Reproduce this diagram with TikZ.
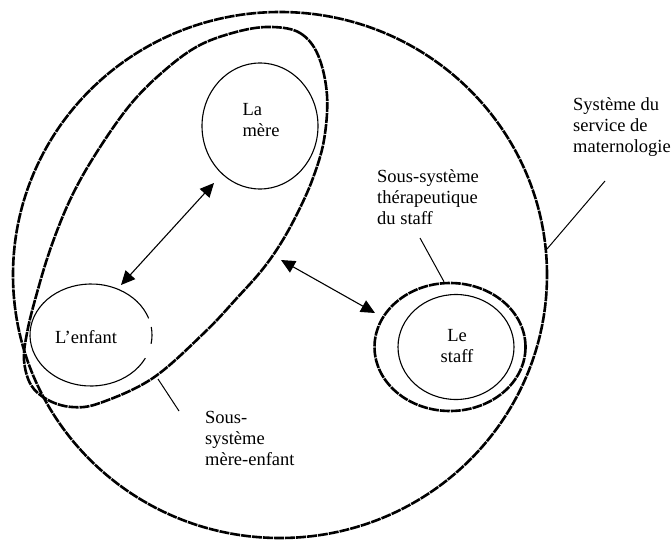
\documentclass[tikz,border=0pt]{standalone}
\usepackage{fontspec}
\setmainfont{Liberation Serif}
\usetikzlibrary{shapes.geometric,arrows.meta}
\begin{document}
\begin{tikzpicture}[x=1pt,y=-1pt,
  sys/.style={line width=2.6pt, dash pattern=on 10pt off 1pt},
  circ/.style={draw, ellipse, line width=1.1pt, inner sep=0pt},
  lbl/.style={font=\fontsize{18.5}{21}\selectfont, inner sep=0pt},
  conn/.style={line width=1pt},
  dbl/.style={line width=1.1pt, {Triangle[length=14pt,width=13pt]}-{Triangle[length=14pt,width=13pt]}}
]
\useasboundingbox (0,0) rectangle (671,540);
% outer system
\node[sys, draw, ellipse, inner sep=0pt, minimum width=534pt, minimum height=526pt] (outer) at (280,275) {};
% mother-child subsystem
\draw[sys] plot[smooth cycle, tension=0.6] coordinates {
  (272,27) (300,33) (318,55) (327,95) (324,140) (313,178) (298,212) (281,243) (262,270)
  (237,298) (205,332) (153,378) (100,403) (72,407) (48,400) (31,385) (24,360)
  (27,333) (35,300) (50,250) (70,200) (95,155) (130,105) (165,70) (200,45) (240,31)};
% mother
\node[circ, minimum width=116pt, minimum height=126pt] (mere) at (260,126) {};
\node[lbl, align=left] (mereT) at (261,120) {La\\mère};
% child (circle with small breaks on the right)
\node[ellipse, inner sep=0pt, minimum width=122pt, minimum height=102pt] (enfant) at (91,335) {};
\draw[line width=1.1pt] (enfant.center) ++(27:61 and 51) arc[start angle=27, end angle=341, x radius=61, y radius=51];
\draw[line width=1.1pt] (enfant.center) ++(-9:61 and 51) arc[start angle=-9, end angle=10, x radius=61, y radius=51];
\node[lbl] (enfantT) at (86,337) {L’enfant};
% staff
\node[sys, draw, ellipse, inner sep=0pt, minimum width=151pt, minimum height=128pt] (staffsys) at (450,347) {};
\node[circ, minimum width=116pt, minimum height=105pt] (staff) at (456,347) {};
\node[lbl, align=center] (staffT) at (457,346) {Le\\staff};
% arrows
\coordinate (a1) at (121,285);
\coordinate (a2) at (214,183);
\draw[dbl] (a1) -- (a2);
\coordinate (b1) at (281,260);
\coordinate (b2) at (375,313);
\draw[dbl] (b1) -- (b2);
% labels
\node[lbl, align=left, anchor=west] (lsys) at (573,127) {Système du\\service de\\maternologie};
\coordinate (lsysA) at (605,181);
\coordinate (lsysB) at (547,249);
\draw[conn] (lsysA) -- (lsysB);
\node[lbl, align=left, anchor=west] (lstaff) at (377,197) {Sous-système\\thérapeutique\\du staff};
\coordinate (lstaffA) at (420,238);
\draw[conn] (lstaffA) -- ([xshift=-6pt]staffsys.north);
\node[lbl, align=left, anchor=west] (lme) at (205,438) {Sous-\\système\\mère-enfant};
\coordinate (lmeA) at (158,379);
\coordinate (lmeB) at (179,411);
\draw[conn] (lmeB) -- (lmeA);
\end{tikzpicture}
\end{document}
